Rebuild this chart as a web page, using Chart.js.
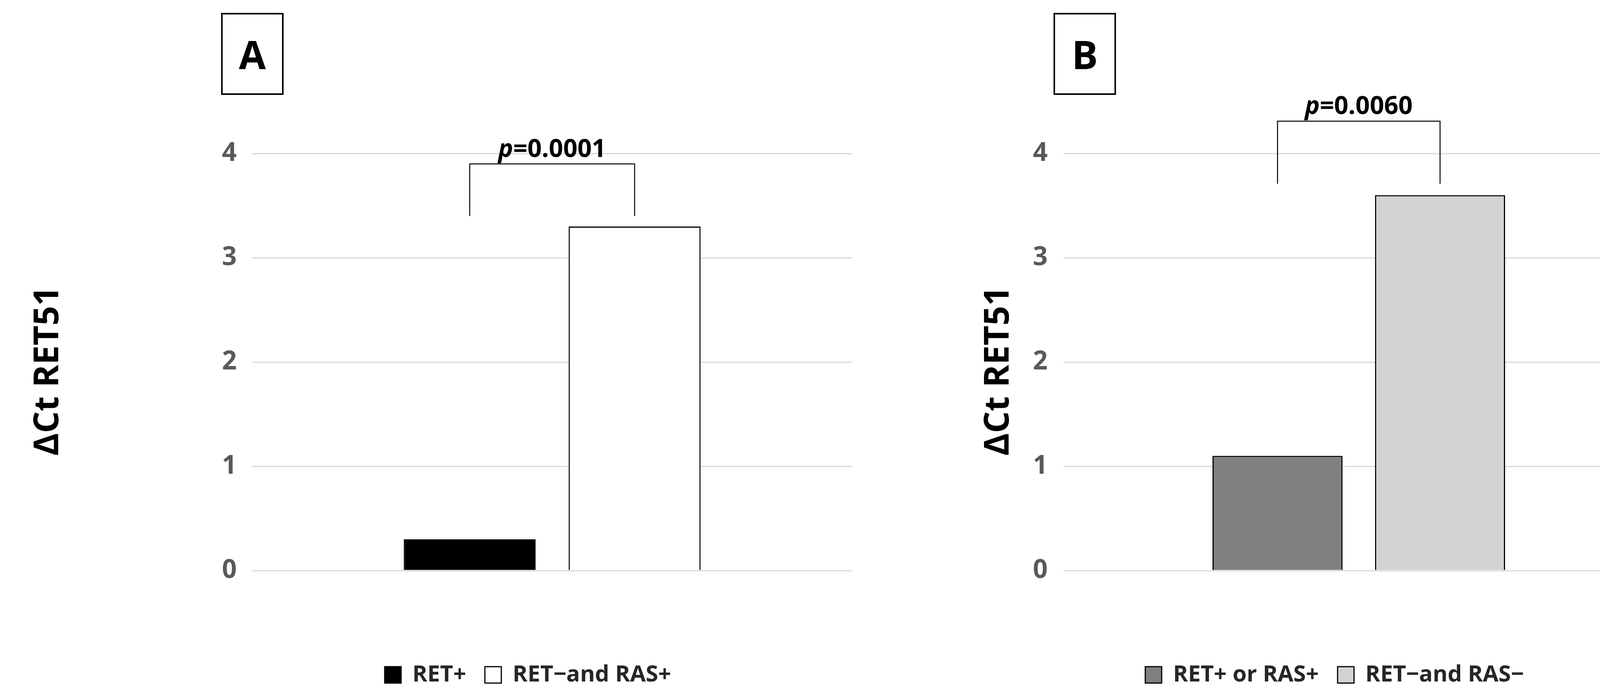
<!DOCTYPE html>
<html>
<head>
<meta charset="utf-8">
<script src="https://cdn.jsdelivr.net/npm/chart.js@4/dist/chart.umd.min.js"></script>
<style>
  body { margin: 0; background: #fff; width: 4311px; height: 1777px; position: relative; overflow: hidden; font-family: "Open Sans", "DejaVu Sans", sans-serif; }
  .panel { position: absolute; top: 0; height: 1777px; }
  .letter { position: absolute; top: 33px; width: 160px; height: 210px; border: 4px solid #000; box-sizing: border-box;
    font: bold 100px "Open Sans", sans-serif; display: flex; align-items: center; justify-content: center; }
  .ytitle { position: absolute; top: 950px; font: bold 88px "Open Sans", sans-serif; white-space: nowrap;
    transform: translate(-50%, -50%) rotate(-90deg); }
</style>
</head>
<body>
<div class="panel" style="left:0;width:2200px"><canvas id="chartA"></canvas></div>
<div class="panel" style="left:2200px;width:2111px"><canvas id="chartB"></canvas></div>
<div class="letter" style="left:566px">A</div>
<div class="letter" style="left:2697px">B</div>
<div class="ytitle" style="left:115px">ΔCt RET51</div>
<div class="ytitle" style="left:2548px">ΔCt RET51</div>
<script>
// data
const labelsA = ['RET+', 'RET−and RAS+'];
const valuesA = [0.3, 3.3];
const colorsA = ['#000000', '#ffffff'];
const labelsB = ['RET+ or RAS+', 'RET−and RAS−'];
const valuesB = [1.1, 3.6];
const colorsB = ['#808080', '#d3d3d3'];
const yTicks = [0, 1, 2, 3, 4];
const pTexts = ['0.0001', '0.0060'];
const bracketTop = [3.9, 4.31];
const bracketLeg = [3.4, 3.71];

const bracketPlugin = {
    id: 'bracket',
    afterDatasetsDraw(chart, args, opts) {
        const ctx = chart.ctx;
        const y = chart.scales.y;
        const x1 = chart.getDatasetMeta(0).data[0].x;
        const x2 = chart.getDatasetMeta(1).data[0].x;
        const yt = y.getPixelForValue(opts.top);
        const yl = y.getPixelForValue(opts.leg);
        ctx.save();
        ctx.strokeStyle = '#000';
        ctx.lineWidth = 2.5;
        ctx.beginPath();
        ctx.moveTo(x1, yl); ctx.lineTo(x1, yt); ctx.lineTo(x2, yt); ctx.lineTo(x2, yl);
        ctx.stroke();
        ctx.fillStyle = '#000';
        ctx.textBaseline = 'bottom';
        ctx.font = 'italic bold 64px "Open Sans"';
        const pw = ctx.measureText('p').width;
        ctx.font = 'bold 64px "Open Sans"';
        const rest = '=' + opts.text;
        const rw = ctx.measureText(rest).width;
        const sx = (x1 + x2) / 2 - (pw + rw) / 2;
        ctx.font = 'italic bold 64px "Open Sans"';
        ctx.fillText('p', sx, yt - 4);
        ctx.font = 'bold 64px "Open Sans"';
        ctx.fillText(rest, sx + pw, yt - 4);
        ctx.restore();
    }
};

function makeChart(id, labels, values, colors, padLeft, padRight, idx) {
    return new Chart(document.getElementById(id), {
        type: 'bar',
        data: {
            labels: [''],
            datasets: labels.map((l, i) => ({
                label: l,
                data: [values[i]],
                backgroundColor: colors[i],
                borderColor: '#000',
                borderWidth: 3,
                categoryPercentage: 0.55,
                barPercentage: 0.8
            }))
        },
        options: {
            responsive: true,
            maintainAspectRatio: false,
            animation: false,
            layout: { padding: { left: padLeft, right: padRight, top: 393, bottom: 10 } },
            scales: {
                x: {
                    grid: { display: false },
                    border: { display: false },
                    ticks: { display: false },
                    afterFit(s) { s.height = 190; }
                },
                y: {
                    min: 0, max: 4,
                    afterBuildTicks(s) { s.ticks = yTicks.map(v => ({ value: v })); },
                    grid: { color: '#d9d9d9', lineWidth: 3, drawTicks: false },
                    border: { display: false },
                    ticks: { color: '#595959', font: { size: 66, weight: 'bold', family: 'Open Sans' }, padding: 40 },
                    afterFit(s) { s.width = 124; }
                }
            },
            plugins: {
                legend: {
                    position: 'bottom',
                    labels: {
                        color: '#262626',
                        font: { size: 58, weight: 'bold', family: 'Open Sans' },
                        boxWidth: 42, boxHeight: 42, padding: 48
                    }
                },
                tooltip: { enabled: false },
                bracket: { top: bracketTop[idx], leg: bracketLeg[idx], text: pTexts[idx] }
            }
        },
        plugins: [bracketPlugin]
    });
}

makeChart('chartA', labelsA, valuesA, colorsA, 522, 19, 0);
makeChart('chartB', labelsB, valuesB, colorsB, 398, 76, 1);
</script>
</body>
</html>
